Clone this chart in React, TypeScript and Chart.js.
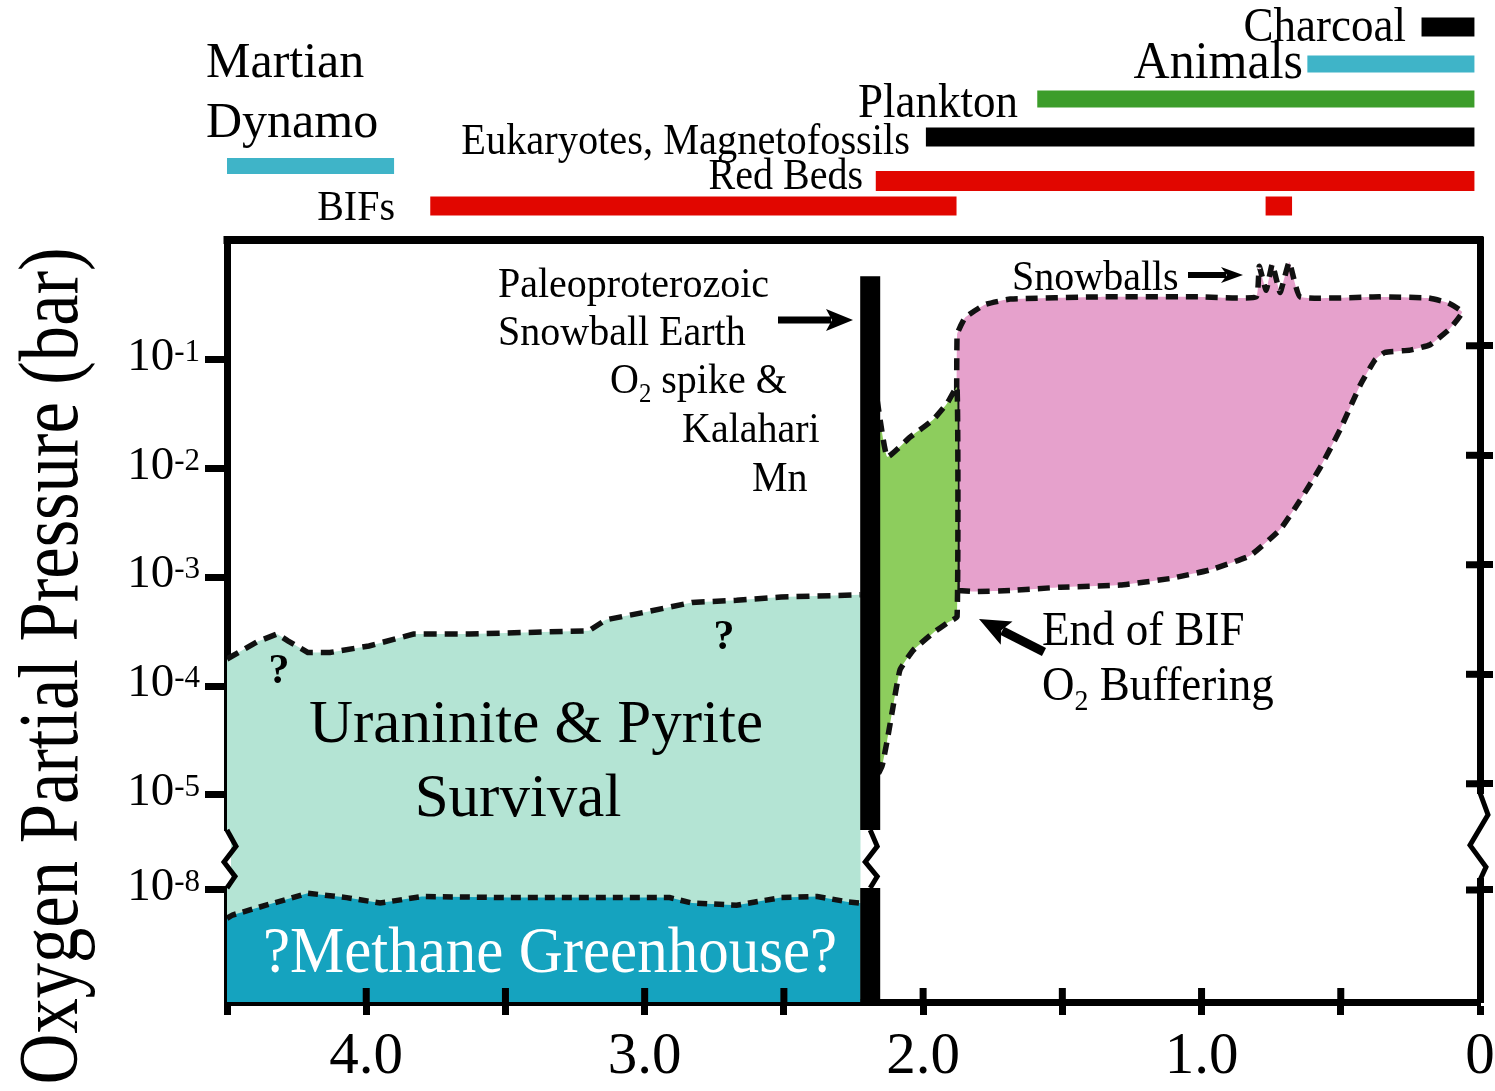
import React, { useEffect, useRef } from 'react';
import { Chart, registerables } from 'chart.js';

Chart.register(...registerables);

const SERIF = '"Liberation Serif", "Times New Roman", Times, serif';

// ---------------- axis geometry (axis units = log10 pO2, shifted below the break) ----------------
const X_MIN = 0;
const X_MAX = 4.5;
const Y_MAX = 0.103;
const Y_MIN = -6.904;
const BREAK_SHIFT = 2.126; // values below 1e-6 bar are drawn shifted up past the axis break
const BREAK_TOP = -5.323;
const BREAK_BOTTOM = -5.856;
// right-hand axis (drawn slightly offset in the original figure)
const Y2_MAX = -0.034;
const Y2_MIN = -6.993;
const BREAK_SHIFT_R = 2.03;
const BREAK_TOP_R = -5.084;
const BREAK_BOTTOM_R = -5.879;
const toAxis = (lp: number) => (lp < -6 ? lp + BREAK_SHIFT : lp);

// ---------------- data: x = age (Ga), y = log10(pO2 / bar) ----------------
const xTickValues = [4, 3, 2, 1, 0];
const xTickLabels = ['4.0', '3.0', '2.0', '1.0', '0'];
const yTickExponents = [-1, -2, -3, -4, -5, -8];

// Uraninite & pyrite survival ceiling (Archean)
const uraniniteTopAge = [4.5, 4.39, 4.32, 4.28, 4.21, 4.13, 3.99, 3.83, 3.63, 3.2, 3.14, 3.0, 2.83, 2.67, 2.51, 2.225];
const uraniniteTopLogP = [-3.75, -3.59, -3.52, -3.585, -3.69, -3.69, -3.63, -3.52, -3.52, -3.49, -3.39, -3.32, -3.23, -3.21, -3.18, -3.16];

// Methane greenhouse ceiling
const methaneTopAge = [4.5, 4.48, 4.36, 4.21, 4.07, 3.95, 3.8, 3.48, 3.15, 2.91, 2.83, 2.67, 2.51, 2.38, 2.27, 2.225];
const methaneTopLogP = [-8.26, -8.23, -8.14, -8.03, -8.07, -8.12, -8.06, -8.07, -8.07, -8.07, -8.12, -8.14, -8.07, -8.06, -8.11, -8.12];

// Paleoproterozoic snowball Earth bar
const snowballAge = 2.19;
const snowballTopLogP = -0.23;

// O2 spike & Kalahari Mn (closed outline)
const spikeAge = [2.165, 2.129, 2.047, 1.964, 1.914, 1.878, 1.878, 1.914, 1.964, 2.036, 2.083, 2.108, 2.129, 2.147, 2.165, 2.165];
const spikeLogP = [-1.37, -1.89, -1.71, -1.55, -1.4, -1.25, -3.36, -3.42, -3.51, -3.67, -3.85, -4.19, -4.5, -4.73, -4.82, -1.37];

// Proterozoic-Phanerozoic oxygen range (closed outline, with Neoproterozoic snowball spikes)
const oxicAge = [1.878, 1.878, 1.849, 1.777, 1.687, 1.364, 1.005, 0.804, 0.793, 0.768, 0.746, 0.718, 0.685, 0.646, 0.359, 0.186, 0.114, 0.064, 0.107, 0.179, 0.251, 0.341, 0.377, 0.43, 0.502, 0.574, 0.646, 0.718, 0.826, 0.969, 1.113, 1.292, 1.508, 1.687, 1.813, 1.878];
const oxicLogP = [-3.12, -0.77, -0.61, -0.49, -0.44, -0.42, -0.42, -0.42, -0.14, -0.36, -0.12, -0.38, -0.1, -0.42, -0.42, -0.43, -0.476, -0.56, -0.71, -0.86, -0.91, -0.93, -1.0, -1.23, -1.64, -1.99, -2.29, -2.56, -2.8, -2.93, -3.01, -3.07, -3.09, -3.12, -3.13, -3.12];

// Geological evidence ranges (Ga)
const evidenceNames = ['Charcoal', 'Animals', 'Plankton', 'Eukaryotes, Magnetofossils', 'Red Beds', 'BIFs', 'BIFs', 'Martian Dynamo'];
const evidenceStartGa = [0.21, 0.62, 1.59, 1.99, 2.17, 3.77, 0.77, 4.5];
const evidenceEndGa = [0.02, 0.02, 0.02, 0.02, 0.02, 1.88, 0.675, 3.9];

// ---------------- styles / layout ----------------
const evidenceColors = ['#000000', '#3fb4c8', '#3c9d2a', '#000000', '#e10600', '#e10600', '#e10600', '#3fb4c8'];
const evidenceRowY = [27, 64, 99, 137, 181, 206, 206, 166];
const evidenceRowH = [19, 17, 17, 19, 20, 19, 19, 16];

type Seg = { t: string; k?: number; dy?: number };
type TextSpec = { segs: Seg[]; x: number; y: number; size: number; align: 'left' | 'right' | 'center'; sy?: number; color?: string; bold?: boolean };

const sub2: Seg = { t: '2', k: 0.62, dy: 0.2 };

const texts: TextSpec[] = [
  { segs: [{ t: 'Charcoal' }], x: 1406, y: 41, size: 45, align: 'right', sy: 1.08 },
  { segs: [{ t: 'Animals' }], x: 1303, y: 78, size: 50, align: 'right', sy: 1.05 },
  { segs: [{ t: 'Plankton' }], x: 1018, y: 117, size: 45, align: 'right', sy: 1.08 },
  { segs: [{ t: 'Eukaryotes, Magnetofossils' }], x: 910, y: 154, size: 40.4, align: 'right', sy: 1.1 },
  { segs: [{ t: 'Red Beds' }], x: 863, y: 189, size: 40, align: 'right', sy: 1.1 },
  { segs: [{ t: 'BIFs' }], x: 395, y: 220, size: 40, align: 'right', sy: 1.05 },
  { segs: [{ t: 'Martian' }], x: 206, y: 77, size: 50, align: 'left' },
  { segs: [{ t: 'Dynamo' }], x: 206, y: 137, size: 50, align: 'left' },
  { segs: [{ t: 'Paleoproterozoic' }], x: 498, y: 297, size: 40, align: 'left', sy: 1.08 },
  { segs: [{ t: 'Snowball Earth' }], x: 498, y: 345, size: 40, align: 'left', sy: 1.08 },
  { segs: [{ t: 'O' }, sub2, { t: ' spike &' }], x: 610, y: 393, size: 40, align: 'left', sy: 1.08 },
  { segs: [{ t: 'Kalahari' }], x: 682, y: 442, size: 40, align: 'left', sy: 1.08 },
  { segs: [{ t: 'Mn' }], x: 752, y: 491, size: 40, align: 'left', sy: 1.08 },
  { segs: [{ t: 'Snowballs' }], x: 1012, y: 290, size: 40, align: 'left', sy: 1.05 },
  { segs: [{ t: 'End of BIF' }], x: 1042, y: 645, size: 45, align: 'left', sy: 1.08 },
  { segs: [{ t: 'O' }, sub2, { t: ' Buffering' }], x: 1042, y: 700, size: 45, align: 'left', sy: 1.08 },
  { segs: [{ t: 'Uraninite & Pyrite' }], x: 536, y: 742, size: 61, align: 'center' },
  { segs: [{ t: 'Survival' }], x: 518, y: 816, size: 61, align: 'center' },
  { segs: [{ t: '?Methane Greenhouse?' }], x: 550, y: 972, size: 61, align: 'center', color: '#ffffff', sy: 1.08 },
  { segs: [{ t: '?' }], x: 279, y: 683, size: 42, align: 'center', bold: true },
  { segs: [{ t: '?' }], x: 724, y: 649, size: 42, align: 'center', bold: true },
];

const arrows = [
  { from: [778, 320], to: [853, 320], shaft: 7, head: 24, half: 11 },
  { from: [1188, 275], to: [1243, 275], shaft: 6, head: 19, half: 8 },
  { from: [1044, 652], to: [979, 619], shaft: 9, head: 28, half: 13 },
];

const fontStr = (size: number, bold = false) => `${bold ? 'bold ' : ''}${size}px ${SERIF}`;

function drawRich(ctx: CanvasRenderingContext2D, s: TextSpec) {
  ctx.save();
  ctx.fillStyle = s.color || '#000';
  ctx.textBaseline = 'alphabetic';
  ctx.textAlign = 'left';
  const parts = s.segs.map((g) => {
    const fs = s.size * (g.k || 1);
    ctx.font = fontStr(fs, s.bold);
    return { t: g.t, fs, dy: (g.dy || 0) * s.size, w: ctx.measureText(g.t).width };
  });
  const total = parts.reduce((a, p) => a + p.w, 0);
  let cx = s.align === 'right' ? s.x - total : s.align === 'center' ? s.x - total / 2 : s.x;
  ctx.translate(0, s.y);
  ctx.scale(1, s.sy || 1);
  for (const p of parts) {
    ctx.font = fontStr(p.fs, s.bold);
    ctx.fillText(p.t, cx, p.dy);
    cx += p.w;
  }
  ctx.restore();
}

function drawArrow(ctx: CanvasRenderingContext2D, a: { from: number[]; to: number[]; shaft: number; head: number; half: number }) {
  const [x1, y1] = a.from;
  const [x2, y2] = a.to;
  const ang = Math.atan2(y2 - y1, x2 - x1);
  const len = Math.hypot(x2 - x1, y2 - y1);
  ctx.save();
  ctx.translate(x1, y1);
  ctx.rotate(ang);
  ctx.fillStyle = '#000';
  ctx.fillRect(0, -a.shaft / 2, len - a.head + 2, a.shaft);
  ctx.beginPath();
  ctx.moveTo(len, 0);
  ctx.lineTo(len - a.head - 3, -a.half);
  ctx.lineTo(len - a.head + 3, 0);
  ctx.lineTo(len - a.head - 3, a.half);
  ctx.closePath();
  ctx.fill();
  ctx.restore();
}

function zigzag(ctx: CanvasRenderingContext2D, pts: number[][], w = 5) {
  ctx.save();
  ctx.strokeStyle = '#000';
  ctx.lineWidth = w;
  ctx.lineJoin = 'miter';
  ctx.beginPath();
  pts.forEach(([x, y], i) => (i ? ctx.lineTo(x, y) : ctx.moveTo(x, y)));
  ctx.stroke();
  ctx.restore();
}

const overlayPlugin = {
  id: 'overlay',
  afterDraw(chart: any) {
    const ctx: CanvasRenderingContext2D = chart.ctx;
    const xs = chart.scales.x;
    const ys = chart.scales.y;
    const y2 = chart.scales.y2;
    const { left, right, top, bottom } = chart.chartArea;
    ctx.save();
    ctx.fillStyle = '#000';
    // top frame line
    ctx.fillRect(left - 3.5, top - 4, right - left + 7, 8);
    // inward halves of the crossing tick marks
    xs.ticks.forEach((t: any) => {
      const p = xs.getPixelForValue(t.value);
      if (p > left + 6 && p < right - 6) ctx.fillRect(p - 3.5, bottom - 14, 7, 14);
    });
    y2.ticks.forEach((t: any) => {
      const p = y2.getPixelForValue(t.value);
      ctx.fillRect(right - 14, p - 3.5, 14, 7);
    });
    // axis breaks
    const lA = ys.getPixelForValue(BREAK_TOP);
    const lB = ys.getPixelForValue(BREAK_BOTTOM);
    ctx.fillStyle = '#fff';
    ctx.fillRect(left - 5, lA + 1, 9, lB - lA - 3);
    const lh = lB - lA;
    zigzag(ctx, [[left, lA], [left + 9, lA + 0.28 * lh], [left - 3, lA + 0.55 * lh], [left + 8, lA + 0.8 * lh], [left, lB]]);
    const rA = y2.getPixelForValue(BREAK_TOP_R);
    const rB = y2.getPixelForValue(BREAK_BOTTOM_R);
    ctx.fillStyle = '#fff';
    ctx.fillRect(right - 4, rA + 1, 9, rB - rA - 3);
    const rh = rB - rA;
    zigzag(ctx, [[right, rA], [right + 8, rA + 0.25 * rh], [right - 10, rA + 0.6 * rh], [right + 6, rA + 0.85 * rh], [right, rB]]);
    const bx = xs.getPixelForValue(snowballAge);
    zigzag(ctx, [[bx, lA], [bx + 7, lA + 0.28 * lh], [bx - 5, lA + 0.55 * lh], [bx + 7, lA + 0.8 * lh], [bx, lB]]);

    // y tick labels (10 with superscript exponent)
    ys.ticks.forEach((t: any, i: number) => {
      const p = ys.getPixelForValue(t.value);
      const exp = String(yTickExponents[i]);
      const xr = ys.right - 27;
      ctx.fillStyle = '#000';
      ctx.textBaseline = 'alphabetic';
      ctx.textAlign = 'right';
      ctx.font = fontStr(31);
      const ew = ctx.measureText(exp).width;
      ctx.fillText(exp, xr, p + 10 - 9);
      ctx.font = fontStr(47);
      ctx.fillText('10', xr - ew, p + 10);
    });

    // y axis title
    const title = 'Oxygen Partial Pressure (bar)';
    ctx.save();
    ctx.translate(77, 666);
    ctx.rotate(-Math.PI / 2);
    ctx.font = fontStr(70);
    const tw = ctx.measureText(title).width;
    ctx.scale(837 / tw, 1.22);
    ctx.textAlign = 'center';
    ctx.textBaseline = 'alphabetic';
    ctx.fillStyle = '#000';
    ctx.fillText(title, 0, 0);
    ctx.restore();

    // evidence bars above the plot
    evidenceNames.forEach((_, i) => {
      const xa = xs.getPixelForValue(evidenceStartGa[i]);
      const xb = xs.getPixelForValue(evidenceEndGa[i]);
      ctx.fillStyle = evidenceColors[i];
      ctx.fillRect(Math.min(xa, xb), evidenceRowY[i] - evidenceRowH[i] / 2, Math.abs(xb - xa), evidenceRowH[i]);
    });

    texts.forEach((s) => drawRich(ctx, s));
    arrows.forEach((a) => drawArrow(ctx, a));
    ctx.restore();
  },
};

export default function App() {
  const ref = useRef<HTMLCanvasElement>(null);

  useEffect(() => {
    const canvas = ref.current;
    if (!canvas) return;
    const pts = (ages: number[], logs: number[]) => ages.map((a, i) => ({ x: a, y: toAxis(logs[i]) }));
    const uraniniteTop = pts(uraniniteTopAge, uraniniteTopLogP);
    const methaneTop = pts(methaneTopAge, methaneTopLogP);
    const uranEdge = uraniniteTopAge[uraniniteTopAge.length - 1];
    const methEdge = methaneTopAge[methaneTopAge.length - 1];
    const uraniniteArea = [...uraniniteTop, { x: uranEdge, y: Y_MIN }, { x: X_MAX, y: Y_MIN }, uraniniteTop[0]];
    const methaneArea = [...methaneTop, { x: methEdge, y: Y_MIN }, { x: X_MAX, y: Y_MIN }, methaneTop[0]];
    const spikeArea = pts(spikeAge, spikeLogP);
    const oxicArea = pts(oxicAge, oxicLogP);
    const snowballBar = [
      { x: snowballAge, y: toAxis(snowballTopLogP) },
      { x: snowballAge, y: BREAK_TOP },
      { x: snowballAge, y: null },
      { x: snowballAge, y: BREAK_BOTTOM },
      { x: snowballAge, y: Y_MIN },
    ];
    const dashed = { borderColor: '#111', borderWidth: 5.5, borderCapStyle: 'butt' as const };
    const noBorder = { borderColor: 'rgba(0,0,0,0)', borderWidth: 0 };

    const chart = new Chart(canvas, {
      type: 'line',
      data: {
        datasets: [
          { label: 'Paleoproterozoic Snowball Earth', data: snowballBar as any, borderColor: '#000', borderWidth: 20, borderCapStyle: 'butt', fill: false, tension: 0, order: 0 },
          { label: 'Uraninite & Pyrite limit', data: uraniniteTop, ...dashed, borderDash: [13, 8], fill: false, tension: 0, order: 1 },
          { label: 'Methane Greenhouse limit', data: methaneTop, ...dashed, borderDash: [10, 7], fill: false, tension: 0, order: 1 },
          { label: 'O2 spike & Kalahari Mn', data: spikeArea, ...dashed, borderDash: [12, 8], backgroundColor: '#8dcd5d', fill: 'shape', tension: 0.12, order: 2 },
          { label: 'Proterozoic-Phanerozoic O2', data: oxicArea, ...dashed, borderDash: [12, 8], backgroundColor: '#e6a1cc', fill: 'shape', tension: 0.12, order: 2 },
          { label: '?Methane Greenhouse?', data: methaneArea, ...noBorder, backgroundColor: '#15a3bf', fill: 'shape', tension: 0, order: 3 },
          { label: 'Uraninite & Pyrite Survival', data: uraniniteArea, ...noBorder, backgroundColor: '#b4e4d4', fill: 'shape', tension: 0, order: 4 },
        ],
      },
      options: {
        animation: false,
        responsive: false,
        devicePixelRatio: 1,
        events: [],
        layout: { padding: { top: 240, left: 0, right: 0, bottom: 0 } },
        elements: { point: { radius: 0, hoverRadius: 0 } },
        plugins: { legend: { display: false }, tooltip: { enabled: false }, title: { display: false } },
        scales: {
          x: {
            type: 'linear',
            reverse: true,
            min: X_MIN,
            max: X_MAX,
            position: 'bottom',
            z: 1,
            afterFit: (s: any) => {
              s.height = 89;
              s.paddingLeft = 0;
              s.paddingRight = 0;
            },
            border: { display: true, width: 7, color: '#000' },
            grid: { drawOnChartArea: false, drawTicks: true, tickLength: 13, tickWidth: 7, tickColor: '#000' },
            ticks: {
              stepSize: 0.5,
              autoSkip: false,
              maxRotation: 0,
              minRotation: 0,
              padding: 7,
              color: '#000',
              font: { family: SERIF, size: 59 },
              callback: (v: any) => {
                const i = xTickValues.findIndex((t) => Math.abs(t - Number(v)) < 1e-6);
                return i >= 0 ? xTickLabels[i] : '';
              },
            },
          },
          y: {
            type: 'linear',
            min: Y_MIN,
            max: Y_MAX,
            position: 'left',
            z: 1,
            afterFit: (s: any) => {
              s.width = 227;
            },
            afterBuildTicks: (s: any) => {
              s.ticks = yTickExponents.map((e) => ({ value: toAxis(e) }));
            },
            border: { display: true, width: 7, color: '#000' },
            grid: { drawOnChartArea: false, drawTicks: true, tickLength: 22, tickWidth: 7, tickColor: '#000' },
            ticks: { display: false },
          },
          y2: {
            type: 'linear',
            min: Y2_MIN,
            max: Y2_MAX,
            position: 'right',
            z: 1,
            afterFit: (s: any) => {
              s.width = 15;
            },
            afterBuildTicks: (s: any) => {
              s.ticks = yTickExponents.map((e) => ({ value: e < -6 ? e + BREAK_SHIFT_R : e }));
            },
            border: { display: true, width: 7, color: '#000' },
            grid: { drawOnChartArea: false, drawTicks: true, tickLength: 13, tickWidth: 7, tickColor: '#000' },
            ticks: { display: false },
          },
        },
      } as any,
      plugins: [overlayPlugin],
    });
    return () => chart.destroy();
  }, []);

  return (
    <div style={{ position: 'absolute', left: 0, top: 0, width: 1495, height: 1091, background: '#fff' }}>
      <canvas ref={ref} width={1495} height={1091} style={{ display: 'block', width: 1495, height: 1091 }} />
    </div>
  );
}
